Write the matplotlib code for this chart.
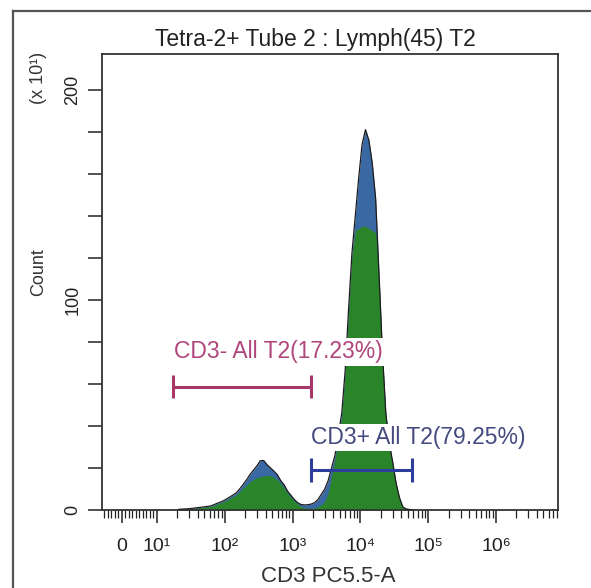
import numpy as np
import matplotlib
matplotlib.use("Agg")
import matplotlib.pyplot as plt
from matplotlib.lines import Line2D

plt.rcParams['font.family'] = ['Liberation Sans', 'DejaVu Sans']

# ---------------- data ----------------
title = "Tetra-2+ Tube 2 : Lymph(45) T2"
x_label = "CD3 PC5.5-A"
y_label = "Count"
y_unit = "(x 10¹)"

# histogram channels (log10 of intensity), 0.05-decade bins from 10^1.30 to 10^4.80
log_edges = np.arange(1.30, 4.80 + 1e-9, 0.05)

# total events (blue), counts in units of 10
blue_counts = [0.3, 0.4, 0.5, 0.6, 0.8, 1.0, 1.2, 1.4, 1.6, 1.8,
               2.3, 3.0, 3.6, 4.3, 5.2, 6.2, 7.2, 8.3, 10.2, 12.3,
               14.5, 17.0, 19.0, 21.0, 23.5, 23.5, 21.5, 20.0, 18.5, 16.8,
               14.0, 12.0, 9.0, 7.0, 5.0, 3.5, 2.6, 2.4, 2.5, 2.8,
               3.5, 5.0, 7.5, 10.0, 14.0, 20.0, 26.0, 36.0, 46.0, 66.0,
               95.0, 122.0, 140.0, 158.0, 174.0, 181.0, 176.0, 165.0, 148.0, 112.0,
               75.0, 46.0, 32.0, 23.0, 13.0, 6.0, 1.5, 0.5, 0.2, 0.0]

# gated population (green)
green_counts = [0.3, 0.35, 0.45, 0.55, 0.7, 0.9, 1.1, 1.25, 1.4, 1.5,
                2.0, 2.6, 3.2, 3.8, 4.6, 5.5, 6.4, 7.3, 8.8, 10.5,
                12.0, 13.5, 14.5, 15.3, 15.8, 16.2, 16.5, 16.3, 15.5, 14.5,
                12.5, 10.5, 8.0, 6.0, 4.2, 2.8, 1.6, 1.0, 0.8, 0.8,
                1.0, 1.5, 2.5, 4.0, 8.0, 16.0, 24.0, 34.0, 44.0, 64.0,
                93.0, 120.0, 133.0, 134.0, 135.0, 135.0, 134.0, 133.0, 132.0, 110.0,
                73.0, 45.0, 31.0, 22.0, 12.5, 5.5, 1.2, 0.4, 0.1, 0.0]

# gates
gate_names = ["CD3- All T2(17.23%)", "CD3+ All T2(79.25%)"]
gate_lo = [17.5, 1850.0]
gate_hi = [1850.0, 58600.0]
gate_y = [58.6, 19.0]
gate_label_y = [75.2, 34.3]
gate_colors = ["#a8386a", "#2c3d9c"]
gate_text_colors = ["#b0457c", "#444a80"]

x_tick_vals = [0, 10, 1e2, 1e3, 1e4, 1e5, 1e6]
x_tick_labels = ["0", "10¹", "10²", "10³", "10⁴", "10⁵", "10⁶"]
y_tick_vals = [0, 100, 200]
y_tick_labels = ["0", "100", "200"]

# ---------------- figure ----------------
fig = plt.figure(figsize=(5.91, 5.88), dpi=100)
fig.patch.set_facecolor("white")
ax = fig.add_axes([0.1726, 0.1327, 0.7716, 0.7755])

ax.set_xscale("symlog", linthresh=10, linscale=0.464)
ax.set_xlim(-5.7, 8.2e6)
ax.set_ylim(0, 217)

centers = 10 ** ((log_edges[:-1] + log_edges[1:]) / 2)
ax.fill_between(centers, blue_counts, 0, color="#3a68a2", lw=0, zorder=1)
ax.fill_between(centers, green_counts, 0, color="#2a852a", lw=0, zorder=2)
ax.plot(centers, blue_counts, color="#1c1c1c", lw=0.9, zorder=3)

cap = 5.5
for lo, hi, yy, c in zip(gate_lo, gate_hi, gate_y, gate_colors):
    ax.hlines(yy, lo, hi, color=c, lw=2.2, zorder=5)
    ax.vlines([lo, hi], yy - cap, yy + cap, color=c, lw=2.2, zorder=5)

for name, lo, ly, tc in zip(gate_names, gate_lo, gate_label_y, gate_text_colors):
    ax.text(lo * 1.02, ly, name, color=tc, fontsize=16.5, ha="left", va="center",
            zorder=4, bbox=dict(facecolor="white", edgecolor="none", pad=1.5))

# x ticks
ax.set_xticks(x_tick_vals)
ax.set_xticklabels(x_tick_labels)
minor = list(range(-5, 0)) + list(range(1, 10))
for d in range(1, 7):
    minor += [m * 10 ** d for m in range(2, 10)]
ax.set_xticks([m for m in minor if m < 8.2e6], minor=True)
ax.tick_params(axis="x", which="major", direction="out", length=9.5, width=1.1,
               pad=11, labelsize=14, colors="#222222")
ax.tick_params(axis="x", which="minor", direction="out", length=5.5, width=0.9,
               colors="#222222")

# y ticks
ax.set_yticks(y_tick_vals)
ax.set_yticklabels(y_tick_labels)
ax.set_yticks([v for v in range(20, 217, 20) if v not in y_tick_vals], minor=True)
ax.tick_params(axis="y", which="both", direction="out", length=10, width=1.1,
               pad=5, labelsize=13, colors="#222222")
for lab in ax.get_yticklabels():
    lab.set_rotation(90)
    lab.set_va("center")

for sp in ax.spines.values():
    sp.set_linewidth(1.3)
    sp.set_color("#333333")

ax.set_xlabel(x_label, fontsize=16, color="#333333", va="center")
ax.xaxis.set_label_coords(0.4956, -0.145)
ax.set_ylabel(y_label, fontsize=13, color="#333333", rotation=90,
              ha="center", va="center", rotation_mode="default")
ax.yaxis.set_label_coords(-0.139, 0.522)
ax.text(-0.139, 0.947, y_unit, transform=ax.transAxes, rotation=90,
        ha="center", va="center", fontsize=13, color="#333333")

fig.text(0.533, 0.932, title, ha="center", va="center", fontsize=16.5, color="#222222")

# outer panel frame (top and left edges)
fig.add_artist(Line2D([13 / 591, 13 / 591], [0, 1 - 11 / 588], transform=fig.transFigure,
                      color="#555555", lw=1.6))
fig.add_artist(Line2D([13 / 591, 1], [1 - 11 / 588, 1 - 11 / 588], transform=fig.transFigure,
                      color="#555555", lw=1.6))

fig.savefig("out.png", dpi=100, facecolor="white")
